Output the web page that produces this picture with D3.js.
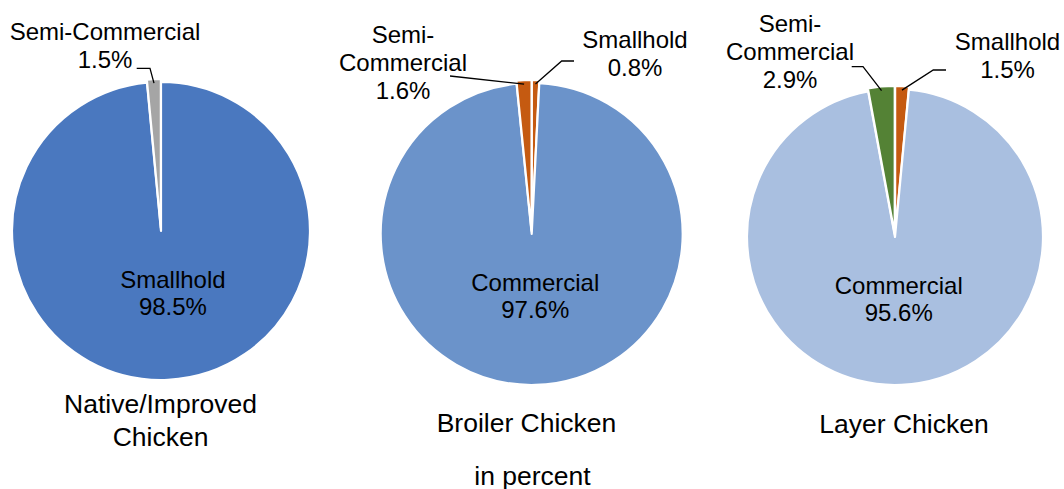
<!DOCTYPE html>
<html>
<head>
<meta charset="utf-8">
<script src="https://cdn.jsdelivr.net/npm/d3@7"></script>
<style>
  html, body { margin: 0; padding: 0; background: #fff; }
  svg text { font-family: Arial, 'Liberation Sans', sans-serif; fill: #000; }
</style>
</head>
<body>
<div id="chart"></div>
<script>
// 数据
const chartTitles = [['Native/Improved', 'Chicken'], ['Broiler Chicken'], ['Layer Chicken']];
const nativeCats = ['Smallhold', 'Semi-Commercial'];
const nativeValues = [98.5, 1.5];
const broilerCats = ['Smallhold', 'Commercial', 'Semi-Commercial'];
const broilerValues = [0.8, 97.6, 1.6];
const layerCats = ['Smallhold', 'Commercial', 'Semi-Commercial'];
const layerValues = [1.5, 95.6, 2.9];
const unitNote = 'in percent';

// 布局和样式
const width = 1064, height = 489;
const pies = [
  { cats: nativeCats, values: nativeValues, cx: 161, cy: 231, r: 149,
    colors: ['#4a78bf', '#a5a5a5'], innerDx: 9,
    title: { x: 160.5, y: 413 },
    outside: {
      'Semi-Commercial': { lines: ['Semi-Commercial', '1.5%'], x: -56, y: -191, path: [[-11, -162.7], [-24.3, -162.7]] }
    } },
  { cats: broilerCats, values: broilerValues, cx: 531.7, cy: 234, r: 151,
    colors: ['#c55a11', '#6b93ca', '#c55a11'], innerDx: 2,
    title: { x: 526.5, y: 431.7 },
    outside: {
      'Smallhold': { lines: ['Smallhold', '0.8%'], x: 103.3, y: -186, path: [[30, -173], [42.3, -173]] },
      'Semi-Commercial': { lines: ['Semi-', 'Commercial', '1.6%'], x: -128.7, y: -191, path: [[-81.7, -158]] }
    } },
  { cats: layerCats, values: layerValues, cx: 895, cy: 237, r: 148,
    colors: ['#c55a11', '#a9bfe0', '#548235'], innerDx: 1,
    title: { x: 904, y: 432.7 },
    outside: {
      'Smallhold': { lines: ['Smallhold', '1.5%'], x: 112.5, y: -187, path: [[38.3, -167], [51, -167]] },
      'Semi-Commercial': { lines: ['Semi-', 'Commercial', '2.9%'], x: -105, y: -205.3, path: [[-32, -170.3], [-43.3, -170.3]] }
    } }
];
const fontSize = 24, titleSize = 26.5, lineH = 28;

const svg = d3.select('#chart').append('svg')
  .attr('width', width).attr('height', height);

const pie = d3.pie().sort(null).value(d => d.value);

pies.forEach((p, pi) => {
  const data = p.cats.map((c, i) => ({ cat: c, value: p.values[i], color: p.colors[i] }));
  const arcs = pie(data);
  const arc = d3.arc().innerRadius(0).outerRadius(p.r);
  const edge = d3.arc().innerRadius(p.r).outerRadius(p.r);
  const inner = d3.arc().innerRadius(62).outerRadius(62);

  const g = svg.append('g').attr('transform', `translate(${p.cx},${p.cy})`);

  // 扇区（小扇区略微分离）
  g.selectAll('path.slice').data(arcs).enter()
    .append('path').attr('class', 'slice')
    .attr('transform', d => {
      if (d.data.value > 50) return null;
      const a = (d.startAngle + d.endAngle) / 2;
      return `translate(${Math.sin(a) * 3},${-Math.cos(a) * 3})`;
    })
    .attr('d', arc)
    .attr('fill', d => d.data.color)
    .attr('stroke', '#fff')
    .attr('stroke-width', 2.2)
    .attr('stroke-linejoin', 'round');

  // 内部标签
  arcs.filter(d => d.data.value > 50).forEach(d => {
    const [x, y] = inner.centroid(d);
    const t = g.append('text').attr('text-anchor', 'middle').style('font-size', fontSize + 'px');
    t.append('tspan').attr('x', x + p.innerDx).attr('y', y - 5).text(d.data.cat);
    t.append('tspan').attr('x', x + p.innerDx).attr('y', y + 22).text(d.data.value.toFixed(1) + '%');
  });

  // 外部标签和引线
  arcs.filter(d => p.outside[d.data.cat]).forEach(d => {
    const o = p.outside[d.data.cat];
    const start = edge.centroid(d);
    const pts = [[start[0], start[1] + 1]].concat(o.path);
    g.append('path')
      .attr('d', d3.line()(pts))
      .attr('fill', 'none')
      .attr('stroke', '#000')
      .attr('stroke-width', 1.3);
    const t = g.append('text').attr('text-anchor', 'middle').style('font-size', fontSize + 'px');
    o.lines.forEach((s, i) => {
      t.append('tspan').attr('x', o.x).attr('y', o.y + i * lineH).text(s);
    });
  });

  // 标题
  const tt = svg.append('text').attr('text-anchor', 'middle').style('font-size', titleSize + 'px');
  chartTitles[pi].forEach((s, i) => {
    tt.append('tspan').attr('x', p.title.x).attr('y', p.title.y + i * 33).text(s);
  });
});

svg.append('text')
  .attr('x', 532.5).attr('y', 485)
  .attr('text-anchor', 'middle')
  .style('font-size', titleSize + 'px')
  .text(unitNote);
</script>
</body>
</html>
